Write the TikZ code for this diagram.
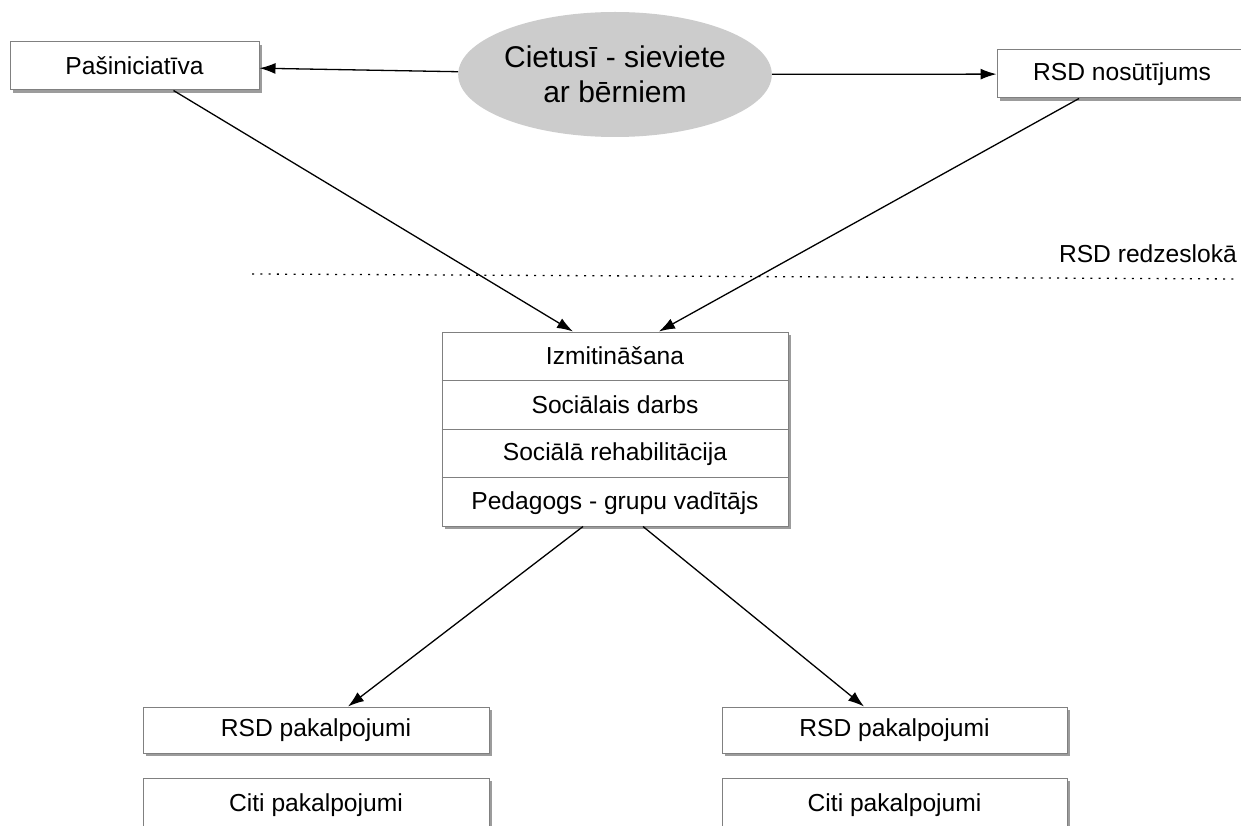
\documentclass[tikz,border=0pt]{standalone}
\usepackage{fontspec}
\setmainfont{Liberation Sans}
\usetikzlibrary{arrows.meta,shapes.geometric,shadows,calc}
\tikzset{
  boxshadow/.style={drop shadow={shadow xshift=2.5pt,shadow yshift=-3pt,fill=black!55,opacity=0.7}},
  labelbox/.style={draw=black!50,line width=1pt,fill=white,minimum height=48pt,inner sep=0pt,
    font=\fontsize{24.6pt}{29pt}\selectfont,boxshadow},
  rowtext/.style={inner sep=0pt,minimum height=48.5pt,minimum width=346pt,font=\fontsize{24.6pt}{29pt}\selectfont},
  arr/.style={line width=1.3pt,-{Latex[length=16pt,width=11pt]}},
  divline/.style={draw=black!50,line width=1pt}
}
\begin{document}
\begin{tikzpicture}[x=1pt,y=-1pt]
\clip (0,0) rectangle (1241,826);
\fill[white] (0,0) rectangle (1241,826);

% top row
\node[ellipse,fill={rgb,255:red,204;green,204;blue,204},minimum width=312pt,minimum height=125pt,inner sep=0pt,
  align=center,font=\fontsize{30pt}{35pt}\selectfont] (ell) at (615,74.5) {Cietusī - sieviete\\ar bērniem};
\node[labelbox,minimum width=249pt] (pas) at (134.5,66) {Pašiniciatīva};
\node[labelbox,minimum width=250pt] (nos) at (1122,74) {RSD nosūtījums};
\draw[arr] (ell) -- (pas);
\draw[arr] (ell) -- (nos);

% dotted boundary
\coordinate (dl) at (252,274);
\coordinate (dr) at (1237,279);
\draw[line width=1.3pt,dash pattern=on 2pt off 6.3pt] (dl) -- (dr);
\node[anchor=base east,inner sep=0pt,font=\fontsize{24.6pt}{29pt}\selectfont] (vis) at (1237,262) {RSD redzeslokā};

% central stack
\node[draw=black!50,line width=1pt,fill=white,minimum width=346pt,minimum height=194pt,inner sep=0pt,boxshadow] (stk) at (615,429) {};
\draw[divline] ($(stk.north west)!0.25!(stk.south west)$) -- ($(stk.north east)!0.25!(stk.south east)$);
\draw[divline] ($(stk.north west)!0.5!(stk.south west)$) -- ($(stk.north east)!0.5!(stk.south east)$);
\draw[divline] ($(stk.north west)!0.75!(stk.south west)$) -- ($(stk.north east)!0.75!(stk.south east)$);
\node[rowtext,anchor=north] (r1) at (stk.north) {Izmitināšana};
\node[rowtext,anchor=north] (r2) at (r1.south) {Sociālais darbs};
\node[rowtext,anchor=north] (r3) at (r2.south) {Sociālā rehabilitācija};
\node[rowtext,anchor=north] (r4) at (r3.south) {Pedagogs - grupu vadītājs};

\draw[arr] ([xshift=39pt]pas.south) -- ([xshift=-42pt]stk.north);
\draw[arr] ([xshift=-43pt]nos.south) -- ([xshift=44pt]stk.north);

% bottom boxes
\node[labelbox,minimum width=346pt,minimum height=46pt] (lb1) at (316,730) {RSD pakalpojumi};
\node[labelbox,minimum width=346pt,minimum height=54pt] (lb2) at (316,805) {Citi pakalpojumi};
\node[labelbox,minimum width=345pt,minimum height=46pt] (rb1) at (894.5,730) {RSD pakalpojumi};
\node[labelbox,minimum width=345pt,minimum height=54pt] (rb2) at (894.5,805) {Citi pakalpojumi};

\draw[arr] ([xshift=-32pt]stk.south) -- ([xshift=32pt]lb1.north);
\draw[arr] ([xshift=28pt]stk.south) -- ([xshift=-30.5pt]rb1.north);
\end{tikzpicture}
\end{document}
